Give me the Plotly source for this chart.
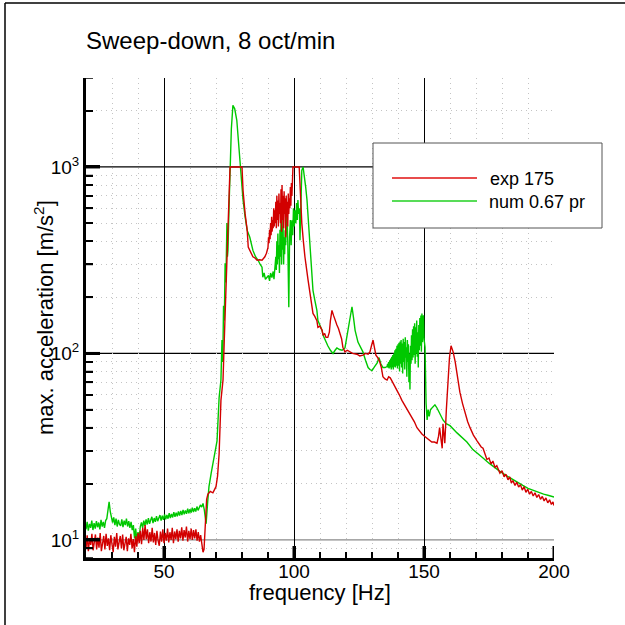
import numpy as np
import plotly.graph_objects as go

# ---------------- data ----------------
# Experimental curve "exp 175"
RED_LOW_START, RED_LOW_END = 20.0, 65.0
RED_LOW_VALUES = [
    9.0, 10.6, 8.7, 10.1, 9.4, 10.8, 8.8, 9.9, 10.7, 8.9,
    10.3, 9.1, 10.9, 8.7, 9.8, 10.5, 8.9, 10.8, 9.3, 10.2,
    8.8, 10.6, 9.5, 8.6, 10.4, 9.2, 10.9, 8.9, 9.7, 10.5,
    9.0, 10.7, 8.8, 9.9, 10.4, 8.7, 10.2, 9.4, 10.8, 9.0,
    10.1, 8.6, 10.5, 9.2, 10.9, 9.6, 11.2, 9.5, 11.6, 10.0,
    12.0, 10.1, 11.4, 9.6, 11.0, 9.8, 11.6, 9.7, 10.9, 9.4,
    11.2, 9.9, 9.3, 11.1, 9.8, 11.4, 9.6, 10.9, 9.9, 11.5,
    9.7, 11.0, 10.0, 11.6, 9.6, 11.1, 10.1, 11.4, 9.8, 11.2,
    10.2, 11.7, 9.9, 11.3, 10.3, 11.8, 9.8, 11.2, 10.1, 11.5,
    10.0, 11.3, 10.2, 11.4, 9.9, 11.0, 9.8, 10.6, 9.2, 8.6,
]
RED_RISE_FREQ = [65.4, 65.8, 66.4, 66.9, 67.8, 68.8, 69.5, 70.0, 70.6, 71.2,
                 71.9, 72.7, 73.2, 73.6, 74.0, 74.4, 74.8, 75.2, 75.4, 80.0,
                 80.4, 81.2, 82.0, 82.4, 83.0, 84.2, 85.0, 85.8, 86.8, 87.7,
                 88.8, 89.4]
RED_RISE_VALUES = [8.9, 12.3, 16.5, 17.6, 18.2, 17.9, 18.6, 19.3, 22, 29,
                   56, 72, 120, 180, 250, 330, 480, 700, 1000, 1000,
                   750, 560, 457, 372, 357, 330, 325, 316, 318, 316,
                   330, 345]
RED_BAND_START, RED_BAND_END = 90.0, 99.6
RED_BAND_VALUES = [
    370, 420, 390, 460, 410, 500, 430, 540, 450, 520,
    470, 600, 480, 585, 500, 650, 470, 700, 520, 660,
    480, 720, 560, 640, 500, 760, 450, 800, 520, 700,
    470, 740, 560, 680, 420, 700, 540, 650, 480, 720,
    560, 680, 600, 780, 620, 820, 700, 860, 1000,
]
RED_TAIL_FREQ = [102.0, 102.5, 103.0, 103.6, 104.2, 105.4, 106.2, 106.9, 107.3, 108.0,
                 108.8, 109.2, 110.0, 110.8, 111.2, 111.8, 112.3, 113.0, 113.6, 114.0,
                 114.6, 115.2, 115.8, 116.5, 117.1, 117.7, 118.3, 118.8, 119.6, 120.5,
                 121.5, 122.5, 124.2, 125.3, 126.5, 127.5, 128.5, 129.2, 129.8, 130.4,
                 130.9, 131.5, 132.2, 133.0, 133.6, 134.2, 135.0, 135.8, 136.4, 137.0,
                 137.5, 138.0, 138.8, 139.6, 140.5, 141.5, 142.5, 143.5, 144.5, 145.4,
                 146.3, 147.3, 148.2, 149.2, 150.2, 151.2, 152.0, 153.0, 154.0, 155.0,
                 155.6, 156.0, 156.5, 157.0, 157.3, 157.7, 158.0, 158.6, 159.2, 159.8,
                 160.4, 161.2, 162.0, 162.7, 163.8, 164.8, 165.8, 166.8, 167.7, 169.0,
                 170.4, 171.2, 172.0, 172.7, 173.5, 174.2, 175.0, 175.8, 176.5, 177.3,
                 178.0, 178.7, 179.2, 180.0, 180.8, 181.5, 182.3, 183.0, 183.6, 184.2,
                 185.0, 185.7, 186.4, 187.1, 187.8, 188.5, 189.2, 189.9, 190.6, 191.3,
                 192.0, 192.7, 193.4, 194.1, 194.8, 195.5, 196.2, 196.9, 197.6, 198.3,
                 199.0, 199.6, 200.0]
RED_TAIL_VALUES = [1000, 700, 500, 400, 330, 248, 210, 186, 164, 158,
                   150, 138, 140, 133, 125, 128, 122, 122, 130, 150,
                   170, 160, 150, 142, 136, 129, 120, 108, 102, 104,
                   102, 100, 99, 97, 98, 100, 99, 102, 110, 118,
                   108, 98, 95, 90, 84, 75, 73, 72, 75, 74,
                   72, 70, 67, 64, 60, 56, 53, 51, 48, 46,
                   43, 40, 38.5, 37, 36, 35, 34.5, 33.5, 33.5, 33,
                   36, 40, 35, 31, 42, 36, 33, 50, 72, 95,
                   110, 102, 90, 78, 62, 54, 48, 43, 40, 36.5,
                   34, 32.5, 31.5, 31, 28.5, 27, 27.5, 25.5, 26.5, 24.5,
                   25, 23.5, 22.8, 23.5, 21.8, 22.5, 21, 21.8, 20.2, 20.8,
                   19.6, 20.4, 19.2, 19.8, 18.5, 19.3, 18.0, 18.7, 17.6, 18.2,
                   17.2, 17.9, 16.9, 17.5, 16.5, 17.1, 16.2, 16.8, 15.8, 16.4,
                   15.5, 16.0, 15.3]

# Numerical curve "num 0.67 pr"
GREEN_LOW_START, GREEN_LOW_END = 20.0, 64.0
GREEN_LOW_VALUES = [
    11.4, 12.5, 11.2, 12.2, 11.6, 12.7, 11.3, 12.3, 11.5, 12.6,
    11.7, 12.4, 11.4, 12.8, 11.8, 12.5, 11.6, 12.7, 13.0, 14.5,
    16.0, 14.2, 13.3, 12.4, 13.2, 12.0, 13.0, 11.8, 12.8, 12.1,
    11.9, 12.9, 11.7, 12.7, 12.0, 13.0, 11.8, 12.6, 11.6, 12.5,
    11.3, 12.0, 10.2, 11.5, 9.9, 11.0, 10.2, 11.8, 12.4, 11.6,
    12.7, 11.9, 12.9, 12.1, 13.1, 12.2, 12.8, 13.3, 12.3, 13.1,
    12.5, 13.4, 12.6, 13.2, 13.6, 12.7, 13.5, 12.8, 13.7, 12.9,
    13.6, 13.0, 13.9, 13.1, 13.8, 13.2, 14.1, 13.3, 14.0, 13.4,
    14.2, 13.5, 14.3, 13.6, 14.5, 13.7, 14.4, 13.8, 14.7, 13.9,
    14.6, 14.0, 14.9, 14.1, 14.8, 14.2, 15.1, 14.4, 15.0, 15.4,
]
GREEN_MID_FREQ = [64.5, 65.0, 65.5, 66.2, 66.8, 67.3, 68.2, 69.2, 70.4, 71.2,
                  71.9, 72.3, 72.6, 72.9, 73.2, 73.5, 73.8, 74.2, 74.4, 74.6,
                  75.0, 75.4, 75.9, 76.5, 77.2, 78.0, 78.6, 79.2, 79.8, 80.4,
                  81.2, 82.0, 83.0, 83.6, 84.2, 85.2, 86.2, 87.0, 87.7, 88.0,
                  88.5, 89.0, 89.6, 90.2, 90.6, 91.0, 91.5, 92.0, 92.3, 92.7,
                  93.0, 93.2, 93.4, 93.6, 93.8, 94.0, 94.2, 94.4, 94.6, 94.8,
                  95.0, 95.2, 95.4, 95.6, 95.8, 96.0, 96.2, 96.4, 96.6, 96.8,
                  97.0, 97.3, 97.6, 98.0, 98.3, 98.6, 98.9, 99.2, 99.5, 99.8,
                  100.1, 100.4, 100.7, 101.0, 101.3, 101.5, 101.8, 102.1, 102.3, 102.6,
                  103.0, 103.5, 104.0, 104.5, 105.0, 105.6, 106.2, 106.8, 107.3, 108.0,
                  108.8, 109.2, 110.0, 110.8, 111.2, 112.0, 113.0, 114.0, 115.0, 115.8,
                  116.5, 117.5, 118.5, 119.6, 120.2, 120.8, 121.5, 122.3, 122.9, 123.5,
                  124.6, 125.5, 126.5, 127.5, 128.5, 129.2, 130.0, 131.0, 132.0, 132.7,
                  133.4, 134.2, 135.0, 135.8]
GREEN_MID_VALUES = [15.0, 15.7, 14.5, 12.2, 16, 19.3, 23, 28, 34, 58,
                    72, 118, 90, 180, 150, 305, 240, 500, 330, 357,
                    600, 1000, 1600, 2140, 2050, 1780, 1400, 1040, 820, 665,
                    540, 457, 420, 390, 357, 330, 316, 300, 290, 256,
                    270, 250, 256, 262, 245, 270, 255, 275, 250, 290,
                    330, 280, 400, 300, 440, 320, 380, 270, 460, 330,
                    500, 300, 540, 360, 480, 300, 420, 340, 457, 380,
                    520, 585, 400, 177, 420, 520, 380, 518, 430, 600,
                    480, 585, 500, 640, 520, 665, 560, 600, 405, 700,
                    960, 1000, 900, 780, 665, 500, 372, 280, 218, 193,
                    170, 150, 140, 133, 125, 117, 110, 104, 100, 104,
                    107, 105, 104, 107, 120, 138, 160, 178, 155, 133,
                    115, 108, 102, 92, 84, 82, 81, 85, 89, 95,
                    88, 84, 84, 85]
GREEN_BAND_START, GREEN_BAND_END = 136.0, 149.8
GREEN_BAND_VALUES = [
    88, 84, 90, 83, 92, 84, 94, 82, 96, 84,
    98, 82, 100, 85, 104, 84, 106, 86, 110, 83,
    112, 86, 114, 80, 116, 88, 118, 84, 113, 78,
    120, 90, 115, 82, 122, 95, 108, 75, 118, 90,
    112, 70, 100, 64, 110, 88, 125, 92, 135, 95,
    140, 98, 145, 88, 138, 100, 150, 96, 130, 84,
    142, 104, 155, 110, 160, 102, 164, 115, 150, 160,
]
GREEN_TAIL_FREQ = [150.0, 150.4, 150.8, 151.2, 151.6, 152.0, 152.5, 153.0, 153.6, 154.2,
                   155.0, 156.0, 157.3, 158.5, 160.0, 162.7, 164.5, 166.5, 168.8, 170.5,
                   172.7, 175.0, 177.0, 179.2, 181.5, 183.5, 185.8, 188.0, 190.0, 192.0,
                   194.0, 196.0, 198.0, 200.0]
GREEN_TAIL_VALUES = [120, 108, 54, 44, 50, 46, 50, 51, 52, 53,
                     51, 48, 44, 42, 41, 37.5, 35.5, 33.5, 30.5, 29,
                     27.5, 25.8, 24.5, 23.3, 22.2, 21.3, 20.4, 19.6, 18.9, 18.4,
                     18.0, 17.6, 17.3, 17.0]

SERIES_NAMES = ["exp 175", "num 0.67 pr"]
X_TICKS = [50, 100, 150, 200]
X_MINOR = [30, 40, 60, 70, 80, 90, 110, 120, 130, 140, 160, 170, 180, 190]
Y_TICKS = [10, 100, 1000]
Y_TICK_TEXT = ["10<sup>1</sup>", "10<sup>2</sup>", "10<sup>3</sup>"]
Y_MINOR = [8, 9, 20, 30, 40, 50, 60, 70, 80, 90,
           200, 300, 400, 500, 600, 700, 800, 900, 2000, 3000]

# ---------------- assemble series ----------------
def band(start, end, vals):
    return list(np.linspace(start, end, len(vals))), list(vals)

rf1, rv1 = band(RED_LOW_START, RED_LOW_END, RED_LOW_VALUES)
rf3, rv3 = band(RED_BAND_START, RED_BAND_END, RED_BAND_VALUES)
red_f = rf1 + RED_RISE_FREQ + rf3 + RED_TAIL_FREQ
red_v = rv1 + RED_RISE_VALUES + rv3 + RED_TAIL_VALUES

gf1, gv1 = band(GREEN_LOW_START, GREEN_LOW_END, GREEN_LOW_VALUES)
gf4, gv4 = band(GREEN_BAND_START, GREEN_BAND_END, GREEN_BAND_VALUES)
green_f = gf1 + GREEN_MID_FREQ + gf4 + GREEN_TAIL_FREQ
green_v = gv1 + GREEN_MID_VALUES + gv4 + GREEN_TAIL_VALUES

RED = "#d20000"
GREEN = "#00c800"
FONT = "Liberation Sans, Arial, sans-serif"

fig = go.Figure()
fig.add_trace(go.Scatter(x=green_f, y=green_v, mode="lines", name=SERIES_NAMES[1],
                         line=dict(color=GREEN, width=1.4), showlegend=False))
fig.add_trace(go.Scatter(x=red_f, y=red_v, mode="lines", name=SERIES_NAMES[0],
                         line=dict(color=RED, width=1.4), showlegend=False))

L, R, T, B = 86, 71, 78, 67
W = H = 625
pw, ph = W - L - R, H - T - B


def px(xp):
    return (xp - L) / pw


def py(yp):
    return (H - B - yp) / ph


fig.update_layout(
    width=W, height=H,
    margin=dict(l=L, r=R, t=T, b=B, pad=0),
    paper_bgcolor="white", plot_bgcolor="white",
    font=dict(family=FONT, color="black", size=19),
    showlegend=False,
)
MINOR_GRID = dict(showgrid=True, gridcolor="#c4c4c4", griddash="1px,4px", gridwidth=1)
fig.update_xaxes(
    range=[20, 200], showline=True, linewidth=3, linecolor="black",
    ticks="inside", ticklen=12, tickwidth=3, tickcolor="black",
    tickmode="array", tickvals=X_TICKS, tickfont=dict(size=19),
    ticklabelstandoff=-6,
    showgrid=True, gridcolor="black", gridwidth=1.2, zeroline=False,
    minor=dict(ticks="inside", ticklen=6, tickwidth=1.5, tickcolor="black",
               tickmode="array", tickvals=X_MINOR, **MINOR_GRID),
)
fig.update_yaxes(
    type="log", range=[np.log10(8), np.log10(3000)],
    showline=True, linewidth=3, linecolor="black",
    ticks="inside", ticklen=14, tickwidth=3, tickcolor="black",
    tickmode="array", tickvals=Y_TICKS, ticktext=Y_TICK_TEXT,
    tickfont=dict(size=19), showgrid=False, zeroline=False,
    minor=dict(ticks="inside", ticklen=7, tickwidth=1.5, tickcolor="black",
               tickmode="array", tickvals=Y_MINOR, **MINOR_GRID),
)

shapes = []
# major horizontal grid lines
for v, c in zip(Y_TICKS, ["#8a8a8a", "black", "black"]):
    shapes.append(dict(type="line", xref="paper", yref="y", x0=0, x1=1,
                       y0=v, y1=v, line=dict(color=c, width=1.2), layer="between"))
# tick marks drawn on top of the curves (inside ticks)
for v in X_TICKS:
    shapes.append(dict(type="line", xref="x", yref="paper", x0=v, x1=v, y0=0, y1=12 / ph,
                       line=dict(color="black", width=3), layer="above"))
for v in X_MINOR:
    shapes.append(dict(type="line", xref="x", yref="paper", x0=v, x1=v, y0=0, y1=6 / ph,
                       line=dict(color="black", width=1.5), layer="above"))
for v in Y_TICKS:
    shapes.append(dict(type="line", xref="paper", yref="y", x0=0, x1=14 / pw, y0=v, y1=v,
                       line=dict(color="black", width=3), layer="above"))
for v in Y_MINOR:
    shapes.append(dict(type="line", xref="paper", yref="y", x0=0, x1=7 / pw, y0=v, y1=v,
                       line=dict(color="black", width=1.5), layer="above"))
# legend box
shapes.append(dict(type="rect", xref="paper", yref="paper",
                   x0=px(373), x1=px(602), y0=py(228), y1=py(143),
                   line=dict(color="#555555", width=1), fillcolor="white", layer="above"))
shapes.append(dict(type="line", xref="paper", yref="paper", x0=px(392), x1=px(477),
                   y0=py(178), y1=py(178), line=dict(color="#e01010", width=1.3), layer="above"))
shapes.append(dict(type="line", xref="paper", yref="paper", x0=px(392), x1=px(477),
                   y0=py(201), y1=py(201), line=dict(color="#20d020", width=1.3), layer="above"))
# outer frame (left and top edges)
shapes.append(dict(type="line", xref="paper", yref="paper", x0=px(5), x1=px(5),
                   y0=py(3), y1=py(640), line=dict(color="black", width=1.5)))
shapes.append(dict(type="line", xref="paper", yref="paper", x0=px(5), x1=px(640),
                   y0=py(3), y1=py(3), line=dict(color="black", width=1.5)))

annotations = [
    dict(text="Sweep-down, 8 oct/min", xref="paper", yref="paper", x=px(84), y=py(40),
         xanchor="left", yanchor="middle", showarrow=False, font=dict(size=24)),
    dict(text="frequency [Hz]", xref="paper", yref="paper", x=0.5, y=py(592),
         xanchor="center", yanchor="middle", showarrow=False, font=dict(size=22)),
    dict(text="max. acceleration [m/s<sup>2</sup>]", xref="paper", yref="paper",
         x=px(44), y=0.5, textangle=-90, xanchor="center", yanchor="middle",
         showarrow=False, font=dict(size=22)),
    dict(text=SERIES_NAMES[0], xref="paper", yref="paper", x=px(488), y=py(179),
         xanchor="left", yanchor="middle", showarrow=False, font=dict(size=18)),
    dict(text=SERIES_NAMES[1], xref="paper", yref="paper", x=px(487), y=py(202),
         xanchor="left", yanchor="middle", showarrow=False, font=dict(size=18)),
]
fig.update_layout(shapes=shapes, annotations=annotations)

fig.write_html("out.html")
